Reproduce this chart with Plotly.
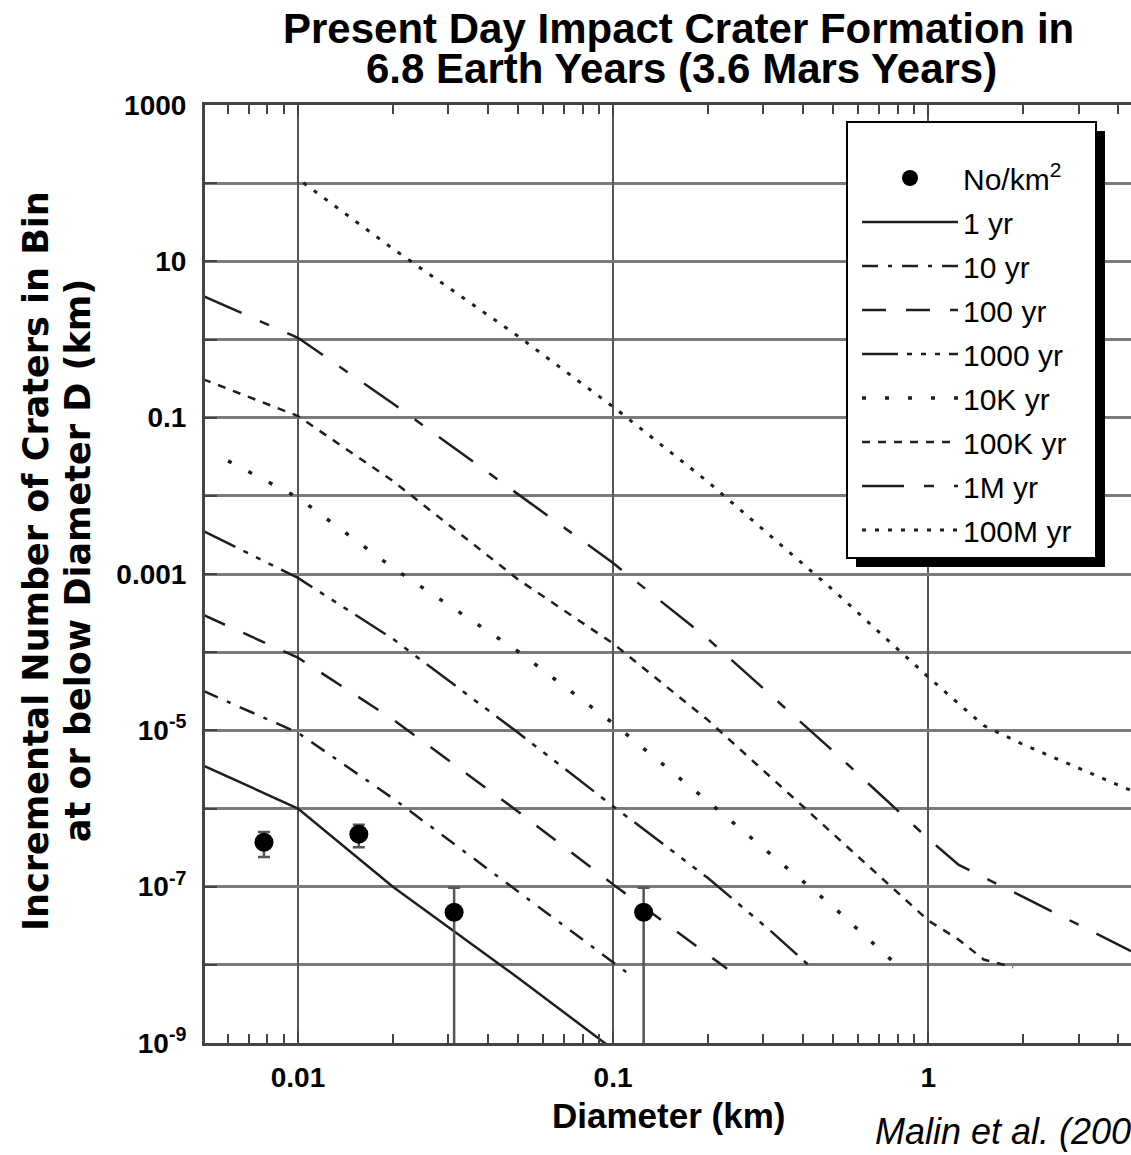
import math
import plotly.graph_objects as go

# ---------------- data ----------------
# Diameter (km) and incremental number of craters per bin
d_1yr = [0.005, 0.01, 0.02, 0.05, 0.1]
n_1yr = [3.55e-6, 1.0e-6, 1.0e-7, 6.8e-9, 8.3e-10]

d_10yr = [0.005, 0.01, 0.02, 0.05, 0.1, 0.11]
n_10yr = [3.2e-5, 9.3e-6, 1.35e-6, 8.7e-8, 1.07e-8, 8.1e-9]

d_100yr = [0.005, 0.01, 0.02, 0.05, 0.1, 0.2, 0.23]
n_100yr = [3.0e-4, 8.5e-5, 1.38e-5, 9.1e-7, 1.07e-7, 1.35e-8, 8.9e-9]

d_1000yr = [0.005, 0.01, 0.02, 0.05, 0.1, 0.2, 0.32, 0.43]
n_1000yr = [3.55e-3, 8.9e-4, 1.48e-4, 9.3e-6, 1.07e-6, 1.29e-7, 2.6e-8, 8.9e-9]

d_10kyr = [0.006, 0.01, 0.02, 0.05, 0.1, 0.2, 0.5, 0.77]
n_10kyr = [2.8e-2, 9.5e-3, 1.2e-3, 1.02e-4, 1.23e-5, 1.23e-6, 5.5e-8, 1.12e-8]

d_100kyr = [0.005, 0.01, 0.02, 0.05, 0.1, 0.2, 0.5, 1.0, 1.25, 1.5, 1.86]
n_100kyr = [0.31, 0.105, 0.0155, 8.5e-4, 1.29e-4, 1.35e-5, 4.7e-7, 3.7e-8, 2.1e-8, 1.17e-8, 9.3e-9]

d_1myr = [0.005, 0.01, 0.02, 0.05, 0.1, 0.2, 0.5, 1.0, 1.25, 2.0, 4.4]
n_1myr = [3.6, 1.05, 0.152, 0.0105, 1.38e-3, 1.48e-4, 5.4e-6, 4.1e-7, 1.9e-7, 7.4e-8, 1.5e-8]

d_100myr = [0.0104, 0.02, 0.05, 0.1, 0.2, 0.5, 1.0, 1.5, 2.0, 4.4]
n_100myr = [101, 14.5, 1.1, 0.138, 0.0151, 6.2e-4, 4.8e-5, 1.15e-5, 6.6e-6, 1.7e-6]

# observed craters (No/km^2) with error bars
d_obs = [0.0078, 0.0156, 0.0313, 0.125]
n_obs = [3.7e-7, 4.7e-7, 4.7e-8, 4.7e-8]
err_plus = [1.3e-7, 1.5e-7, 5.0e-8, 5.0e-8]
err_minus = [1.3e-7, 1.5e-7, 4.7e-8, 4.7e-8]

series_names = ["1 yr", "10 yr", "100 yr", "1000 yr", "10K yr", "100K yr", "1M yr", "100M yr"]
x_tick_vals = [0.01, 0.1, 1]
x_tick_text = ["0.01", "0.1", "1"]
y_tick_vals = [1e-9, 1e-7, 1e-5, 1e-3, 1e-1, 10, 1000]
y_tick_text = ["10<sup>-9</sup>", "10<sup>-7</sup>", "10<sup>-5</sup>", "0.001", "0.1", "10", "1000"]
y_minor_vals = [1e-8, 1e-6, 1e-4, 1e-2, 1, 100]
x_minor_vals = [0.006, 0.007, 0.008, 0.009,
                0.02, 0.03, 0.04, 0.05, 0.06, 0.07, 0.08, 0.09,
                0.2, 0.3, 0.4, 0.5, 0.6, 0.7, 0.8, 0.9,
                2, 3, 4]

# ---------------- layout geometry (pixels) ----------------
W, H = 1131, 1155
L, R, T, B = 205, 1131, 105, 1043


def px(x):
    return (x - L) / (R - L)


def py(y):
    return (B - y) / (B - T)


styles = [
    ("solid", 2.5),
    ("16px,10px,4px,10px", 2.5),
    ("24px,20px", 2.5),
    ("36px,9px,5px,9px,5px,9px,5px,9px", 2.5),
    ("4px,19px", 3.5),
    ("8px,8px", 2.5),
    ("42px,20px,10px,20px", 2.5),
    ("4px,9px", 3.0),
]
xs = [d_1yr, d_10yr, d_100yr, d_1000yr, d_10kyr, d_100kyr, d_1myr, d_100myr]
ys = [n_1yr, n_10yr, n_100yr, n_1000yr, n_10kyr, n_100kyr, n_1myr, n_100myr]

fig = go.Figure()
for i, (name, xd, yd, (dash, w)) in enumerate(zip(series_names, xs, ys, styles)):
    fig.add_trace(go.Scatter(
        x=xd, y=yd, mode="lines", name=name,
        line=dict(color="#1e1e1e", width=w, dash=dash),
        legendgroup=name, legendrank=i + 2,
    ))

fig.add_trace(go.Scatter(
    x=d_obs, y=n_obs, mode="markers", name="No/km<sup>2</sup>",
    marker=dict(size=19, color="black"),
    error_y=dict(type="data", symmetric=False, array=err_plus, arrayminus=err_minus,
                 color="#555555", thickness=2.5, width=6),
    legendgroup="obs", legendrank=1,
))

bold_font = dict(family="Liberation Sans, Arial, sans-serif", size=28, color="black", weight="bold")
grid_y = dict(color="#7a7a7a", width=2.5)

fig.update_layout(
    width=W, height=H,
    margin=dict(l=L, r=W - R, t=T, b=H - B),
    paper_bgcolor="white", plot_bgcolor="white",
    font=dict(family="Liberation Sans, Arial, sans-serif", color="black"),
    showlegend=True,
    legend=dict(
        x=px(857), y=py(152), xanchor="left", yanchor="top",
        bgcolor="rgba(0,0,0,0)", borderwidth=0,
        font=dict(family="Liberation Sans, Arial, sans-serif", size=30, color="black"),
        itemwidth=96, tracegroupgap=2,
    ),
    xaxis=dict(
        type="log", range=[math.log10(0.00507), math.log10(4.4)],
        tickmode="array", tickvals=x_tick_vals, ticktext=x_tick_text,
        ticks="inside", ticklen=12, tickwidth=2, tickcolor="#444",
        showgrid=True, gridcolor="#555555", gridwidth=1.8,
        showline=True, linecolor="#444", linewidth=3, mirror="allticks",
        tickfont=bold_font, ticklabelstandoff=7,
        minor=dict(tickmode="array", tickvals=x_minor_vals, ticks="inside", ticklen=9,
                   tickwidth=2, tickcolor="#444", showgrid=False),
        zeroline=False,
    ),
    yaxis=dict(
        type="log", range=[-9, 3],
        tickmode="array", tickvals=y_tick_vals, ticktext=y_tick_text,
        ticks="inside", ticklen=12, tickwidth=2, tickcolor="#444",
        showgrid=True, gridcolor=grid_y["color"], gridwidth=grid_y["width"],
        showline=True, linecolor="#444", linewidth=3, mirror=False,
        tickfont=bold_font, ticklabelstandoff=10,
        minor=dict(tickmode="array", tickvals=y_minor_vals, ticks="inside", ticklen=12,
                   tickwidth=2, tickcolor="#444", showgrid=True,
                   gridcolor=grid_y["color"], gridwidth=grid_y["width"]),
        zeroline=False,
    ),
    shapes=[
        # legend drop shadow
        dict(type="rect", xref="paper", yref="paper",
             x0=px(856), x1=px(1105), y0=py(567), y1=py(131),
             fillcolor="black", line=dict(width=0), layer="above"),
        # legend box
        dict(type="rect", xref="paper", yref="paper",
             x0=px(847), x1=px(1096), y0=py(558), y1=py(122),
             fillcolor="white", line=dict(color="black", width=2), layer="above"),
    ],
)

title_font = dict(family="Liberation Sans, Arial, sans-serif", size=42, color="black", weight="bold")
ytitle_font = dict(family="DejaVu Sans, sans-serif", size=35, color="black", weight="bold")

annotations = [
    dict(text="Present Day Impact Crater Formation in", x=px(678), y=py(29),
         font=title_font),
    dict(text="6.8 Earth Years (3.6 Mars Years)", x=px(681), y=py(69),
         font=title_font),
    dict(text="Incremental Number of Craters in Bin", x=px(36), y=py(561),
         textangle=-90, font=ytitle_font),
    dict(text="at or below Diameter D (km)", x=px(78), y=py(561),
         textangle=-90, font=ytitle_font),
    dict(text="Diameter (km)", x=px(668), y=py(1115),
         font=dict(family="Liberation Sans, Arial, sans-serif", size=35, color="black", weight="bold")),
    dict(text="Malin et al. (2006)", x=px(873), y=py(1131), xanchor="left",
         font=dict(family="Liberation Sans, Arial, sans-serif", size=36, color="black", style="italic")),
]
for a in annotations:
    a.setdefault("xanchor", "center")
    a.update(xref="paper", yref="paper", yanchor="middle", showarrow=False)
fig.update_layout(annotations=annotations)

fig.write_html("out.html")
